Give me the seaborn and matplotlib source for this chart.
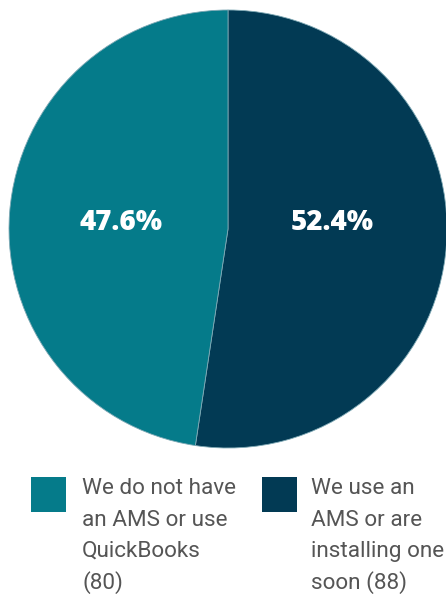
import matplotlib
matplotlib.use("Agg")
import matplotlib.pyplot as plt
from matplotlib.patches import Rectangle
import seaborn as sns

categories = ["We do not have\nan AMS or use\nQuickBooks\n(80)",
              "We use an\nAMS or are\ninstalling one\nsoon (88)"]
counts = [80, 88]
colors = ["#057B8A", "#023A54"]

sns.set_theme(style="white")
plt.rcParams['font.family'] = ['Roboto', 'DejaVu Sans']

W, H = 446, 594
fig = plt.figure(figsize=(W / 100, H / 100), dpi=100)
fig.patch.set_facecolor("white")

cx, cy, r = 228, 229, 219
ax = fig.add_axes([(cx - r) / W, 1 - (cy + r) / H, 2 * r / W, 2 * r / H])
# draw dark slice first (clockwise from top), then teal
order = [1, 0]
vals = [counts[i] for i in order]
cols = [colors[i] for i in order]
wedges, _ = ax.pie(vals, colors=cols, startangle=90, counterclock=False,
                   radius=1.0, wedgeprops=dict(linewidth=0.6, edgecolor="#7fa9b5"))
ax.set_xlim(-1, 1)
ax.set_ylim(-1, 1)
ax.set_aspect("equal")
ax.axis("off")

total = sum(counts)
pct_x = {0: -0.49, 1: 0.475}
for i in range(len(counts)):
    ax.text(pct_x[i], 0.03, f"{counts[i] / total * 100:.1f}%", ha="center", va="center",
            color="white", fontsize=20, fontweight="heavy", family=["Open Sans", "DejaVu Sans"])

# legend
sq_x = [31, 262]
txt_x = [82, 311]
sq_top, sq_size = 477, 35
for i, lab in enumerate(categories):
    fig.patches.append(Rectangle((sq_x[i] / W, 1 - (sq_top + sq_size) / H), sq_size / W, sq_size / H,
                                 transform=fig.transFigure, facecolor=colors[i], edgecolor="none"))
    for j, line in enumerate(lab.split("\n")):
        fig.text(txt_x[i] / W, 1 - (494 + 31.5 * j) / H, line, ha="left", va="baseline",
                 fontsize=16.2, color="#555555")

fig.savefig("out.png", dpi=100)
